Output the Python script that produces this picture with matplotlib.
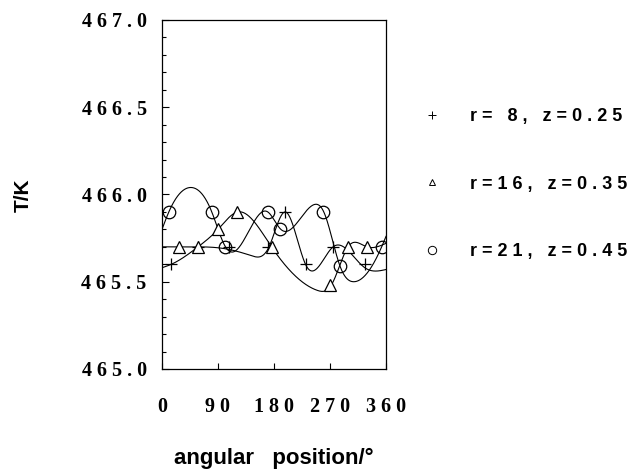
import numpy as np
import matplotlib as mpl
mpl.use('Agg')
import matplotlib.pyplot as plt
from matplotlib.lines import Line2D

# measured points (angle in degrees, temperature in K)
plus_ang = [15, 58, 107, 171, 198, 232, 275, 326]
plus_T = [465.6, 465.7, 465.7, 465.7, 465.9, 465.6, 465.7, 465.6]
tri_ang = [28, 58, 90, 120, 176, 270, 299, 329]
tri_T = [465.7, 465.7, 465.8, 465.9, 465.7, 465.48, 465.7, 465.7]
circ_ang = [11, 80, 102, 171, 190, 259, 286, 353]
circ_T = [465.9, 465.9, 465.7, 465.9, 465.8, 465.9, 465.59, 465.7]

# smoothed profiles as drawn in the figure (knots)
fit1_ang = [0, 28, 58, 100, 143, 172, 198, 232, 275, 326, 360]
fit1_T = [465.70, 465.70, 465.70, 465.69, 465.65, 465.70, 465.90, 465.59, 465.70, 465.58, 465.57]
fit2_ang = [0, 15, 58, 90, 122, 176, 250, 272, 299, 329, 360]
fit2_T = [465.58, 465.60, 465.70, 465.80, 465.90, 465.70, 465.45, 465.48, 465.70, 465.70, 465.72]
fit3_ang = [0, 11, 47, 80, 102, 113, 170, 191, 243, 260, 286, 308, 353, 360]
fit3_T = [465.80, 465.90, 466.04, 465.90, 465.70, 465.67, 465.90, 465.80, 465.94, 465.90, 465.59, 465.50, 465.70, 465.76]

labels = ["r= 8, z=0.25", "r=16, z=0.35", "r=21, z=0.45"]


def natural_spline(x, y, xs):
    # plain natural cubic spline, no scipy needed
    x = np.asarray(x, float); y = np.asarray(y, float)
    n = len(x)
    h = np.diff(x)
    A = np.zeros((n, n)); b = np.zeros(n)
    A[0, 0] = A[-1, -1] = 1.0
    for i in range(1, n - 1):
        A[i, i - 1] = h[i - 1]
        A[i, i] = 2 * (h[i - 1] + h[i])
        A[i, i + 1] = h[i]
        b[i] = 3 * ((y[i + 1] - y[i]) / h[i] - (y[i] - y[i - 1]) / h[i - 1])
    c = np.linalg.solve(A, b)
    idx = np.clip(np.searchsorted(x, xs) - 1, 0, n - 2)
    dx = xs - x[idx]
    bb = (y[idx + 1] - y[idx]) / h[idx] - h[idx] * (2 * c[idx] + c[idx + 1]) / 3
    d = (c[idx + 1] - c[idx]) / (3 * h[idx])
    return y[idx] + bb * dx + c[idx] * dx ** 2 + d * dx ** 3


def spaced(s):
    return " ".join(s)


fig = plt.figure(figsize=(6.37, 4.71), dpi=100)
ax = fig.add_axes([0.2543, 0.2166, 0.3517, 0.741])

xs = np.linspace(0, 360, 721)
for fa, ft in [(fit1_ang, fit1_T), (fit2_ang, fit2_T), (fit3_ang, fit3_T)]:
    ax.plot(xs, natural_spline(fa, ft, xs), color='black', lw=0.8)

ax.plot(plus_ang, plus_T, ls='none', marker='+', ms=9, mew=0.9, color='black')
ax.plot(tri_ang, tri_T, ls='none', marker='^', ms=8, mew=0.9, mfc='white', mec='black')
ax.plot(circ_ang, circ_T, ls='none', marker='o', ms=9, mew=0.9, mfc='none', mec='black')

ax.set_xlim(0, 360)
ax.set_ylim(465.0, 467.0)
ax.set_xticks([0, 90, 180, 270, 360])
ax.set_yticks([465.0, 465.5, 466.0, 466.5, 467.0])
ax.set_yticks(np.arange(465.0, 467.01, 0.1), minor=True)
serif = {'family': 'Liberation Serif', 'weight': 'bold', 'size': 14.5}
ax.set_xticklabels([spaced(str(v)) for v in [0, 90, 180, 270, 360]], fontdict=serif)
ax.set_yticklabels([spaced("%.1f" % v) for v in [465.0, 465.5, 466.0, 466.5, 467.0]], fontdict=serif)
ax.tick_params(axis='both', which='both', direction='in', top=False, right=False, width=0.8)
ax.tick_params(axis='y', which='major', length=5, pad=11)
ax.tick_params(axis='y', which='minor', length=3)
ax.tick_params(axis='x', which='major', length=4, pad=20)
for sp in ax.spines.values():
    sp.set_linewidth(0.9)

sans = {'family': 'Liberation Sans', 'weight': 'bold'}
fig.text(0.036, 0.585, "T/K", rotation=90, ha='center', va='center', fontsize=15, **sans)
fig.text(0.43, 0.027, "angular   position/°", ha='center', va='center', fontsize=16, **sans)

handles = [Line2D([], [], ls='none', marker='+', ms=6, mew=0.7, color='black'),
           Line2D([], [], ls='none', marker='^', ms=5, mew=0.7, mfc='white', mec='black'),
           Line2D([], [], ls='none', marker='o', ms=6, mew=0.7, mfc='none', mec='black')]
leg = fig.legend(handles, [spaced(l) for l in labels], loc='upper left',
                 bbox_to_anchor=(0.638, 0.805), frameon=False, handlelength=1.0,
                 handletextpad=1.6, labelspacing=2.8, prop={'family': 'Liberation Sans', 'weight': 'bold', 'size': 13})

fig.savefig("out.png", dpi=100)
